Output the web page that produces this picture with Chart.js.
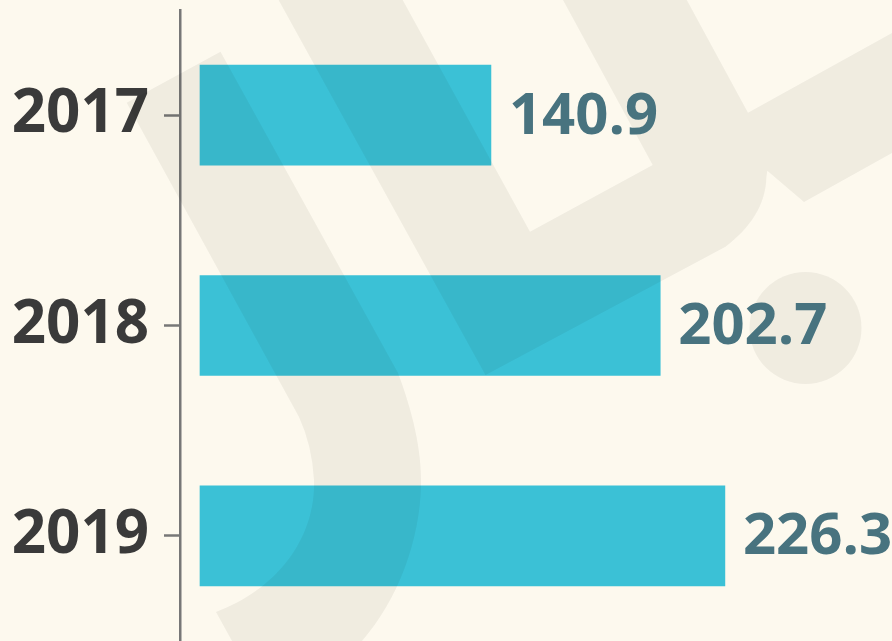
<!DOCTYPE html>
<html>
<head>
<meta charset="utf-8">
<script src="https://cdn.jsdelivr.net/npm/chart.js@4"></script>
<style>
  html, body { margin: 0; padding: 0; background: #fdf9ee; }
  #chart { display: block; }
</style>
</head>
<body>
<canvas id="chart" width="892" height="641"></canvas>
<script>
  // data
  const years = ['2017', '2018', '2019'];
  const values = [140.9, 202.7, 226.3];

  const bgColor = '#fdf9ee';
  const barColor = '#3bc1d6';
  const valueColor = '#48737f';
  const yearColor = '#3a3a3a';

  // cream background
  const backgroundPlugin = {
      id: 'bg',
      beforeDraw(chart) {
          const ctx = chart.ctx;
          ctx.save();
          ctx.fillStyle = bgColor;
          ctx.fillRect(0, 0, chart.width, chart.height);
          ctx.restore();
      }
  };

  // faint logo shape laid over the chart
  const watermarkPlugin = {
      id: 'watermark',
      afterDatasetsDraw(chart) {
          const ctx = chart.ctx;
          ctx.save();
          ctx.fillStyle = 'rgba(20, 20, 0, 0.055)';

          // J stroke
          ctx.beginPath();
          ctx.moveTo(126.7, 102.7);
          ctx.lineTo(220.5, 51.7);
          ctx.lineTo(398, 373);
          ctx.bezierCurveTo(412, 410, 422, 450, 421, 485);
          ctx.bezierCurveTo(420, 540, 398, 600, 362, 641);
          ctx.lineTo(232, 641);
          ctx.lineTo(216, 612);
          ctx.bezierCurveTo(275, 590, 316, 540, 314, 480);
          ctx.quadraticCurveTo(312, 445, 299, 417);
          ctx.closePath();
          ctx.fill();

          // U with right arm
          ctx.beginPath();
          ctx.moveTo(278.6, 0);
          ctx.lineTo(485.5, 375);
          ctx.lineTo(725.5, 246.7);
          ctx.bezierCurveTo(750, 228, 766, 205, 766.4, 176.7);
          ctx.lineTo(767.3, 170.7);
          ctx.lineTo(804, 202);
          ctx.lineTo(892, 153);
          ctx.lineTo(892, 33);
          ctx.lineTo(748, 112.7);
          ctx.lineTo(686.8, 0);
          ctx.lineTo(563, 0);
          ctx.lineTo(652.7, 165);
          ctx.lineTo(530, 231.7);
          ctx.lineTo(402.7, 0);
          ctx.closePath();
          ctx.fill();

          // dot
          ctx.beginPath();
          ctx.arc(805.5, 328, 56, 0, Math.PI * 2);
          ctx.fill();
          ctx.restore();
      }
  };

  // value labels to the right of each bar
  const valueLabelPlugin = {
      id: 'valueLabels',
      afterDraw(chart) {
          const ctx = chart.ctx;
          const meta = chart.getDatasetMeta(0);
          ctx.save();
          ctx.font = 'bold 58px "Open Sans"';
          ctx.fillStyle = valueColor;
          ctx.textAlign = 'left';
          ctx.textBaseline = 'middle';
          meta.data.forEach((bar, i) => {
              ctx.fillText(values[i].toFixed(1), bar.x + 18, bar.y + 2);
          });
          ctx.restore();
      }
  };

  const ctx = document.getElementById('chart').getContext('2d');
  const chart = new Chart(ctx, {
      type: 'bar',
      data: {
          labels: years,
          datasets: [{
              data: values,
              backgroundColor: barColor,
              borderWidth: 0,
              barThickness: 100,
              base: 34.7
          }]
      },
      options: {
          indexAxis: 'y',
          responsive: false,
          animation: false,
          layout: { padding: { top: 10, bottom: 0, left: 0, right: 0 } },
          plugins: {
              legend: { display: false },
              tooltip: { enabled: false }
          },
          scales: {
              x: {
                  display: false,
                  min: 27.4,
                  max: 287.3
              },
              y: {
                  afterFit(scale) {
                      scale.width = 180;
                      scale.paddingTop = 0;
                      scale.paddingBottom = 0;
                  },
                  border: { display: true, color: '#777777', width: 2.5 },
                  grid: {
                      offset: false,
                      drawOnChartArea: false,
                      drawTicks: true,
                      tickLength: 16,
                      tickWidth: 2.5,
                      tickColor: '#777777'
                  },
                  ticks: {
                      color: yearColor,
                      padding: 15,
                      font: { family: '"Open Sans"', size: 60, weight: 'bold' }
                  }
              }
          }
      },
      plugins: [backgroundPlugin, watermarkPlugin, valueLabelPlugin]
  });
</script>
</body>
</html>
